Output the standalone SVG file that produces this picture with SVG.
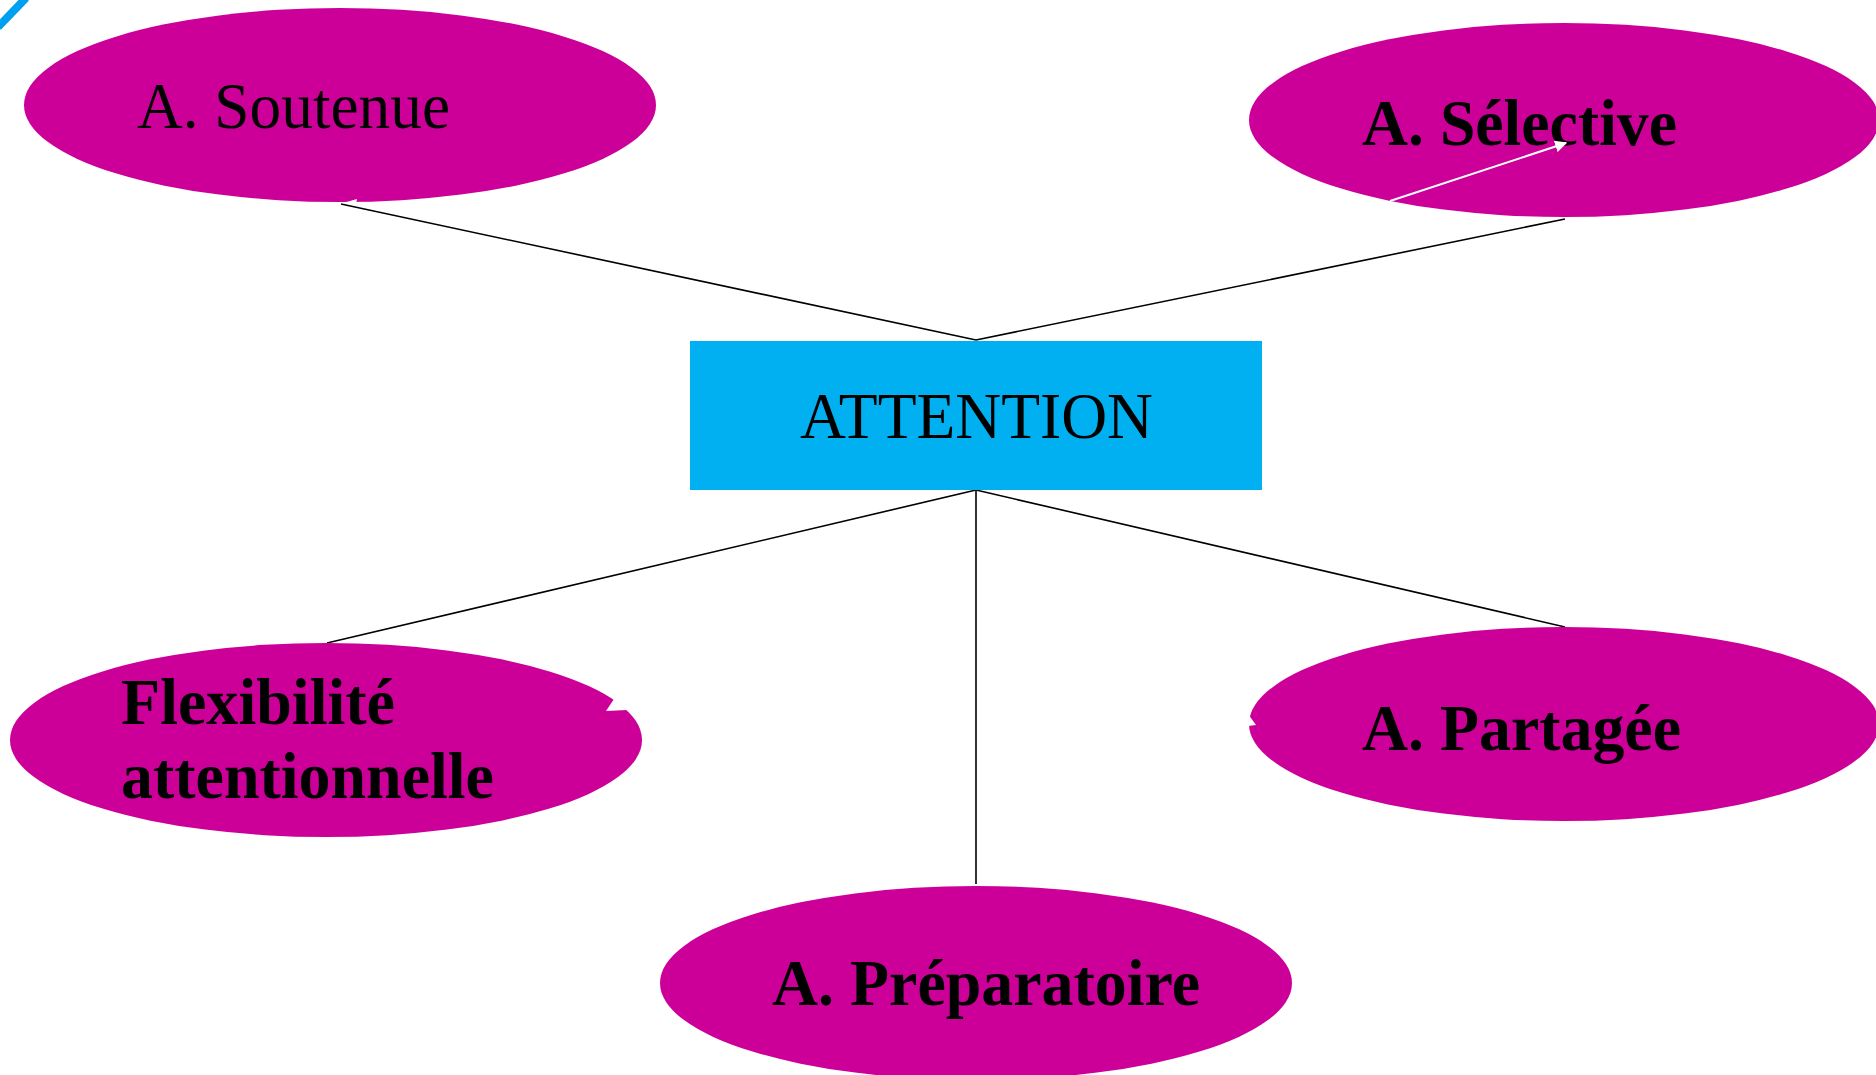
<svg xmlns="http://www.w3.org/2000/svg" width="1876" height="1075" viewBox="0 0 1876 1075">
<style>
.node{fill:#CC0099;}
.box{fill:#00B0F0;}
.t{font-family:"Liberation Serif","Times New Roman",serif;font-size:65px;fill:#000;}
.b{font-weight:bold;}
.c{stroke:#000;stroke-width:1.6;fill:none;}
.w{stroke:#fff;stroke-width:2;fill:none;}
</style>
<defs>
<marker id="wa" viewBox="0 0 10 10" refX="9" refY="5" markerWidth="6" markerHeight="6" orient="auto"><path d="M0,0 L10,5 L0,10 z" fill="#fff"/></marker>
</defs>
<rect width="1876" height="1075" fill="#fff"/>
<line x1="-2" y1="27" x2="26" y2="-2" stroke="#00A0F0" stroke-width="8"/>
<g id="connectors">
<line class="c" x1="341" y1="204" x2="976" y2="340"/>
<line class="c" x1="1565" y1="219" x2="976" y2="340"/>
<line class="c" x1="976" y1="490" x2="327" y2="643"/>
<line class="c" x1="976" y1="490" x2="976" y2="884"/>
<line class="c" x1="976" y1="490" x2="1565" y2="627"/>
</g>
<g id="n-soutenue">
<ellipse class="node" cx="340" cy="105" rx="316" ry="97"/>
<path d="M343,203 L357,199 L356,204 z" fill="#fff"/>
<text class="t" x="137" y="128" textLength="313" lengthAdjust="spacingAndGlyphs">A. Soutenue</text>
</g>
<g id="n-selective">
<ellipse class="node" cx="1564" cy="120" rx="315" ry="97"/>
<text class="t b" x="1362" y="145" textLength="315" lengthAdjust="spacingAndGlyphs">A. Sélective</text>
<line class="w" x1="1390" y1="201" x2="1566" y2="143" marker-end="url(#wa)"/>
</g>
<g id="n-attention">
<rect class="box" x="690" y="341" width="572" height="149"/>
<text class="t" x="800" y="438" textLength="353" lengthAdjust="spacingAndGlyphs">ATTENTION</text>
</g>
<g id="n-flexibilite">
<ellipse class="node" cx="326" cy="740" rx="316" ry="97"/>
<path d="M606,711 L614,699 L627,710 z" fill="#fff"/>
<text class="t b" x="121" y="724" textLength="274" lengthAdjust="spacingAndGlyphs">Flexibilité</text>
<text class="t b" x="121" y="798" textLength="373" lengthAdjust="spacingAndGlyphs">attentionnelle</text>
</g>
<g id="n-partagee">
<ellipse class="node" cx="1564" cy="724" rx="315" ry="97"/>
<path d="M1248,714 L1256,725 L1248,726 z" fill="#fff"/>
<text class="t b" x="1362" y="750" textLength="319" lengthAdjust="spacingAndGlyphs">A. Partagée</text>
</g>
<g id="n-preparatoire">
<ellipse class="node" cx="976" cy="983" rx="316" ry="97"/>
<text class="t b" x="772" y="1005" textLength="428" lengthAdjust="spacingAndGlyphs">A. Préparatoire</text>
</g>
</svg>
